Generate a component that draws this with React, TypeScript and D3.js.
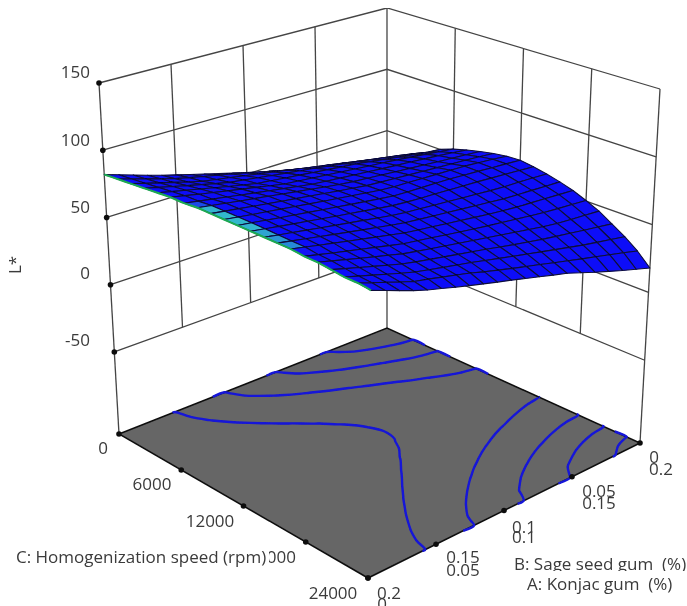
import React from "react";
import * as d3 from "d3";

// L*. One row per step of C (0 -> 24000), one column per step along the A/B axis
const lStar: number[][] = [
  [82, 78.7, 75.3, 72, 68.8, 65.9, 62.9, 60, 57, 54.1, 51.2, 48.2, 45.3, 42.4, 39.4, 36.3, 33.1, 30, 28.6, 27.6, 27],
  [83, 79.9, 76.8, 73.7, 70.6, 68.1, 65.7, 63.3, 61, 58.4, 55.8, 53.2, 50.5, 48, 45.5, 43, 40.5, 38.3, 36.2, 34.1, 32],
  [84, 81.1, 78.2, 75.3, 72.4, 69.6, 67.7, 65.8, 63.8, 61.9, 60, 57.9, 55.8, 53.7, 51.7, 49.5, 47.3, 45, 42.7, 40.5, 38],
  [85, 82.4, 79.8, 77.2, 74.7, 72.1, 69.7, 68.1, 66.5, 64.8, 63.2, 61.6, 60, 58.1, 56.3, 54.4, 52.6, 50.7, 48.6, 46.3, 44],
  [86, 83.6, 81.3, 79, 76.6, 74.2, 71.9, 69.7, 68.4, 67, 65.7, 64.3, 63, 61.6, 60.3, 58.5, 56.7, 54.8, 53, 51.1, 50],
  [87, 84.9, 82.7, 80.6, 78.5, 76.4, 74.3, 72.1, 70, 68.8, 67.6, 66.3, 65.1, 63.9, 62.7, 61.5, 60.2, 58.7, 57.2, 55.6, 54],
  [87, 85.2, 83.3, 81.5, 79.6, 77.8, 75.9, 74.1, 72.2, 70.4, 69.1, 68, 66.8, 65.7, 64.5, 63.4, 62.3, 61.1, 60, 58.5, 57],
  [88, 86.3, 84.5, 82.8, 81.1, 79.4, 77.6, 75.9, 74.2, 72.4, 70.7, 69.3, 68.2, 67.1, 66, 64.9, 63.8, 62.7, 61.6, 60.6, 59.5],
  [88, 86.4, 84.8, 83.1, 81.5, 79.9, 78.3, 76.7, 75, 73.4, 71.8, 70.2, 69.2, 68.3, 67.4, 66.5, 65.6, 64.7, 63.8, 62.7, 61.5],
  [88, 86.4, 84.8, 83.3, 81.7, 80.1, 78.5, 76.9, 75.4, 73.8, 72.2, 70.6, 69.6, 69.1, 68.5, 67.9, 67.3, 66.7, 65.6, 64.4, 63],
  [88, 86.4, 84.8, 83.1, 81.5, 79.9, 78.3, 76.7, 75, 73.4, 71.8, 70.2, 69.6, 69.1, 68.7, 68.2, 67.2, 66.4, 65.4, 64.5, 63.5],
  [88, 86.3, 84.5, 82.8, 81.1, 79.4, 77.6, 75.9, 74.2, 72.4, 70.7, 69.6, 68.8, 68.1, 67.4, 66.6, 65.9, 64.9, 64, 63, 62],
  [88, 86.1, 84.3, 82.4, 80.5, 78.6, 76.8, 74.9, 73, 71.1, 69.6, 68.5, 67.4, 66.3, 65.2, 64.1, 63, 62, 61.5, 60.8, 60],
  [88, 86, 83.9, 81.9, 79.8, 77.8, 75.7, 73.7, 71.6, 69.7, 68.4, 67.1, 65.8, 64.5, 63.2, 61.8, 60.5, 59.7, 59, 58.2, 57.5],
  [88, 85.8, 83.5, 81.3, 79, 76.8, 74.5, 72.3, 70, 68.4, 66.9, 65.3, 63.8, 62.2, 60.6, 59.2, 58, 57.2, 56.3, 55.4, 54.5],
  [87, 84.6, 82.1, 79.7, 77.3, 74.9, 72.4, 70, 68.3, 66.6, 64.8, 63.1, 61.4, 59.7, 58.2, 56.7, 55.1, 53.6, 52.5, 51.5, 50.5],
  [87, 84.3, 81.5, 78.8, 76, 73.3, 70.5, 68.5, 66.5, 64.6, 62.7, 60.8, 58.8, 56.8, 54.8, 52.8, 50.8, 49.2, 48, 47, 46],
  [86, 83, 80.1, 77.1, 74.1, 71.2, 68.8, 66.7, 64.6, 62.5, 60.4, 58.2, 55.9, 53.6, 51.4, 49.3, 47.4, 45.6, 43.7, 41.9, 40],
  [85, 81.9, 78.8, 75.6, 72.5, 69.5, 67.2, 65, 62.7, 60.5, 58, 55.5, 53, 50.5, 48, 45.5, 43, 40.5, 38.3, 36.2, 34],
  [85, 81.4, 77.9, 74.3, 70.7, 68.5, 66, 63.5, 61, 57.8, 55, 52.2, 49.4, 46.7, 43.9, 41.1, 38.3, 35.6, 32.8, 30, 27],
  [84, 80.1, 76.2, 72.3, 68.8, 65.9, 62.9, 60, 57.2, 54.4, 51.7, 48.8, 45.9, 42.9, 40, 36.2, 32.3, 28.6, 25, 21.5, 18],
];
const contourLevels = [30, 40, 50, 60, 70];
const lTicks = [-50, 0, 50, 100, 150];
const speedTicks = [0, 6000, 12000, 18000, 24000];
const gumTicks = [0, 0.05, 0.1, 0.15, 0.2];

const FONT = "'Open Sans', sans-serif";
const INK = "#3a3a3a";

type Pt = [number, number];

// bilinear map of the unit square: ticks are evenly spaced along every edge in the picture
function quadMap(q: Pt[]) {
  return (u: number, v: number): Pt => {
    const w = [(1 - u) * (1 - v), u * (1 - v), u * v, (1 - u) * v];
    return [
      d3.sum(q, (p, i) => p[0] * w[i]),
      d3.sum(q, (p, i) => p[1] * w[i]),
    ];
  };
}

// u: left corner -> back corner, v: left corner -> front corner
const floorMap = quadMap([[119, 434], [387, 328], [640, 443], [368, 578]]);
const topMap = quadMap([[99, 83], [387, 8], [660, 89], [372, 193]]);

const zScale = d3.scaleLinear().domain([-111, 150]).range([0, 1]);
const speedScale = d3.scaleLinear().domain([0, 24000]).range([0, 1]);
const gumScale = d3.scaleLinear().domain([0, 0.2]).range([0, 1]);
const stepU = d3.scaleLinear().domain([0, lStar[0].length - 1]).range([0, 1]);
const stepV = d3.scaleLinear().domain([0, lStar.length - 1]).range([0, 1]);
const cellColor = d3
  .scaleLinear<string>()
  .domain([86.3, 87.4])
  .range(["#1010f8", "#38dcc4"])
  .clamp(true);

function project(u: number, v: number, z: number): Pt {
  const [ax, ay] = floorMap(u, v);
  const [bx, by] = topMap(u, v);
  const t = zScale(z);
  return [ax + (bx - ax) * t, ay + (by - ay) * t];
}

const line = d3.line<Pt>();
const smooth = d3.line<Pt>().curve(d3.curveCatmullRom.alpha(0.5));
const wallLine = (a: Pt, b: Pt) => line([a, b]) as string;

// floor contours: d3 closes the rings round the frame, those bits are thrown away
function contourPaths(): string[] {
  const ny = lStar.length;
  const nx = lStar[0].length;
  const flat = lStar.flat();
  d3.blur2({ data: flat, width: nx, height: ny }, 1); // the hand read grid is too knobbly for clean lines
  const gen = d3.contours().size([nx, ny]).thresholds(contourLevels);
  const out: string[] = [];
  const onFrame = (a: number[], b: number[]) =>
    (a[0] === b[0] && (a[0] === 0 || a[0] === nx)) ||
    (a[1] === b[1] && (a[1] === 0 || a[1] === ny));
  const toFloor = (p: number[]): Pt => {
    const u = Math.min(1, Math.max(0, stepU(p[0] - 0.5)));
    const v = Math.min(1, Math.max(0, stepV(p[1] - 0.5)));
    return floorMap(u, v);
  };
  gen(flat).forEach((c) => {
    c.coordinates.forEach((poly) => {
      poly.forEach((ring) => {
        const pts = ring.slice(0, -1);
        const n = pts.length;
        let start = 0;
        for (let i = 0; i < n; i++) {
          if (onFrame(pts[i], pts[(i + 1) % n])) {
            start = (i + 1) % n;
            break;
          }
        }
        let cur: Pt[] = [toFloor(pts[start])];
        for (let k = 0; k < n; k++) {
          const a = pts[(start + k) % n];
          const b = pts[(start + k + 1) % n];
          if (onFrame(a, b)) {
            if (cur.length > 1) out.push(smooth(cur) as string);
            cur = [toFloor(b)];
          } else {
            cur.push(toFloor(b));
          }
        }
        if (cur.length > 1) out.push(smooth(cur) as string);
      });
    });
  });
  return out;
}

function surfaceCells() {
  const cells: { key: string; d: string; fill: string; depth: number }[] = [];
  for (let r = 0; r < lStar.length - 1; r++) {
    for (let c = 0; c < lStar[0].length - 1; c++) {
      const corners: Pt[] = [
        project(stepU(c), stepV(r), lStar[r][c]),
        project(stepU(c + 1), stepV(r), lStar[r][c + 1]),
        project(stepU(c + 1), stepV(r + 1), lStar[r + 1][c + 1]),
        project(stepU(c), stepV(r + 1), lStar[r + 1][c]),
      ];
      const mean = d3.mean([lStar[r][c], lStar[r][c + 1], lStar[r + 1][c + 1], lStar[r + 1][c]]) as number;
      cells.push({
        key: `${r}-${c}`,
        d: (line(corners) as string) + "Z",
        fill: cellColor(mean),
        depth: c - r,
      });
    }
  }
  // back of the surface first
  return cells.sort((a, b) => b.depth - a.depth);
}

function Label(props: { x: number; y: number; anchor?: string; children: React.ReactNode }) {
  return (
    <text x={props.x} y={props.y} fontFamily={FONT} fontSize={17} fill={INK} textAnchor={props.anchor ?? "middle"}>
      {props.children}
    </text>
  );
}

export default function App() {
  const inner = [0.25, 0.5, 0.75];
  const corners = [0, 1];
  const zMin = zScale.domain()[0];
  const zMax = zScale.domain()[1];
  const zLow = lTicks[0];
  const floorPath = (line([floorMap(0, 0), floorMap(1, 0), floorMap(1, 1), floorMap(0, 1)]) as string) + "Z";
  const edgeLine = d3.range(lStar.length).map((r) => project(0, stepV(r), lStar[r][0]));

  return (
    <svg width={687} height={606} style={{ position: "absolute", left: 0, top: 0, background: "#fff" }}>
      <defs>
        <filter id="soft" x="0" y="0" width="100%" height="100%">
          <feGaussianBlur stdDeviation="0.45" />
        </filter>
      </defs>
      <g filter="url(#soft)">
        {/* walls: inner grid lines stop at the lowest tick, only the corners reach the floor */}
        <g stroke="#444" strokeWidth={1.3} fill="none">
          {inner.map((t) => (
            <path key={`lv${t}`} d={wallLine(project(t, 0, zLow), project(t, 0, zMax))} />
          ))}
          {inner.map((t) => (
            <path key={`rv${t}`} d={wallLine(project(1, t, zLow), project(1, t, zMax))} />
          ))}
          {corners.map((t) => (
            <path key={`cl${t}`} d={wallLine(project(t, 0, zMin), project(t, 0, zMax))} />
          ))}
          <path d={wallLine(project(1, 1, zMin), project(1, 1, zMax))} />
          {lTicks.map((z) => (
            <path key={`lh${z}`} d={line([project(0, 0, z), project(1, 0, z), project(1, 1, z)]) as string} />
          ))}
        </g>
        {lTicks.map((z) => {
          const [x, y] = project(0, 0, z);
          return <circle key={z} cx={x} cy={y} r={2.8} fill="#111" />;
        })}

        {/* floor */}
        <path d={floorPath} fill="#666" stroke="#111" strokeWidth={1.6} />
        <g fill="none" stroke="#1414d8" strokeWidth={2.4}>
          {contourPaths().map((d, i) => (
            <path key={i} d={d} />
          ))}
        </g>
        {speedTicks.map((s) => {
          const [x, y] = floorMap(0, speedScale(s));
          return <circle key={s} cx={x} cy={y} r={2.8} fill="#111" />;
        })}
        {gumTicks.map((g) => {
          const [x, y] = floorMap(gumScale(g), 1);
          return <circle key={g} cx={x} cy={y} r={2.8} fill="#111" />;
        })}

        {/* surface */}
        <g stroke="#08083a" strokeWidth={1.1} strokeLinejoin="round">
          {surfaceCells().map((c) => (
            <path key={c.key} d={c.d} fill={c.fill} />
          ))}
        </g>
        <path d={smooth(edgeLine) as string} fill="none" stroke="#1eaa52" strokeWidth={2} />

        {/* text */}
        <Label x={90} y={78} anchor="end">150</Label>
        <Label x={90} y={146} anchor="end">100</Label>
        <Label x={90} y={213} anchor="end">50</Label>
        <Label x={90} y={279} anchor="end">0</Label>
        <Label x={90} y={346} anchor="end">-50</Label>
        <text transform="translate(21,265) rotate(-90)" fontFamily={FONT} fontSize={17} fill={INK} textAnchor="middle">
          L*
        </text>

        <Label x={103} y={454}>{speedTicks[0]}</Label>
        <Label x={152} y={490}>{speedTicks[1]}</Label>
        <Label x={210} y={527}>{speedTicks[2]}</Label>
        <Label x={296} y={563} anchor="end">{speedTicks[3]}</Label>
        <Label x={333} y={599}>{speedTicks[4]}</Label>

        <rect x={14} y={546} width={255} height={24} fill="#fff" />
        <Label x={16} y={563} anchor="start">C: Homogenization speed (rpm)</Label>

        {/* the two gum axes print over each other */}
        <Label x={389} y={599}>0.2</Label>
        <Label x={463} y={563}>0.15</Label>
        <Label x={524} y={533}>0.1</Label>
        <Label x={599} y={497}>0.05</Label>
        <Label x={654} y={463}>0</Label>
        <Label x={382} y={610}>0</Label>
        <Label x={463} y={576}>0.05</Label>
        <Label x={524} y={543}>0.1</Label>
        <Label x={599} y={509}>0.15</Label>
        <Label x={661} y={475}>0.2</Label>

        <Label x={514} y={570} anchor="start">B: Sage seed gum{"\u00a0 "}(%)</Label>
        <rect x={514} y={571} width={173} height={24} fill="#fff" />
        <Label x={527} y={590} anchor="start">A: Konjac gum{"\u00a0 "}(%)</Label>
      </g>
    </svg>
  );
}
